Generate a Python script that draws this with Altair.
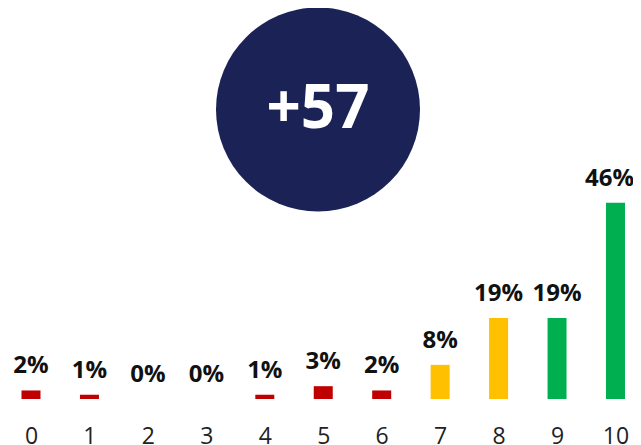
import altair as alt
import pandas as pd

scores = [0, 1, 2, 3, 4, 5, 6, 7, 8, 9, 10]
percents = [2, 1, 0, 0, 1, 3, 2, 8, 19, 19, 46]
groups = ["Detractor"] * 7 + ["Passive"] * 2 + ["Promoter"] * 2
group_names = ["Detractor", "Passive", "Promoter"]
group_colors = ["#C00000", "#FFC000", "#00B050"]
nps_label = "+57"

df = pd.DataFrame({
    "score": scores,
    "pct": percents,
    "group": groups,
    "label": [f"{p}%" for p in percents],
})

FONT = "Open Sans"

x = alt.X(
    "score:Q",
    title=None,
    scale=alt.Scale(domain=[-0.3935, 10.2995], nice=False, zero=False, padding=0),
    axis=alt.Axis(
        values=scores, format="d",
        domain=False, ticks=False, tickSize=0, grid=False,
        labelAngle=0, labelFontSize=23, labelFont=FONT,
        labelColor="#222222", labelPadding=26, labelFlush=False,
        labelOverlap=False,
    ),
)
y = alt.Y("pct:Q", scale=alt.Scale(domain=[0, 91.6]), axis=None)

base = alt.Chart(df)

bars = base.mark_bar(width=19).encode(
    x=x,
    y=y,
    color=alt.Color("group:N", scale=alt.Scale(domain=group_names, range=group_colors), legend=None),
)

label_style = dict(font=FONT, fontSize=24, fontWeight="bold", color="#111111",
                   baseline="bottom", dy=-12)

labels = base.transform_filter(alt.datum.score < 10).mark_text(**label_style).encode(
    x=x, y=y, text="label:N")
labels_last = base.transform_filter(alt.datum.score >= 10).mark_text(dx=-6, **label_style).encode(
    x=x, y=y, text="label:N")

circle_df = pd.DataFrame({"nps": [nps_label]})
circle = alt.Chart(circle_df).mark_point(
    filled=True, shape="circle", opacity=1, color="#1B2356",
).encode(x=alt.value(310), y=alt.value(101.5), size=alt.value(41616))

circle_text = alt.Chart(circle_df).mark_text(
    font=FONT, fontSize=60, fontWeight="bold", color="white",
    baseline="middle", align="center",
).encode(x=alt.value(310), y=alt.value(101.5), text="nps:N")

chart = alt.layer(bars, labels, labels_last, circle, circle_text).properties(
    width=625, height=391,
    autosize=alt.AutoSizeParams(type="none"),
    padding={"left": 0, "top": 0, "right": 0, "bottom": 60},
    background="white",
).configure_view(stroke=None)

chart.save("out.html", embed_options={"renderer": "svg", "actions": False})
